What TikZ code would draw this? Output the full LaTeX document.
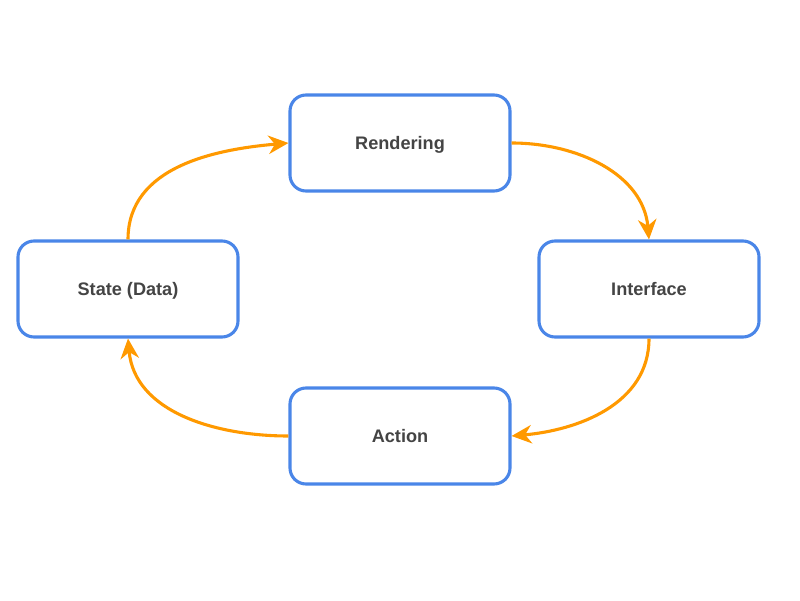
\documentclass[tikz,border=0pt]{standalone}
\usepackage{fontspec}
\setmainfont{Liberation Sans}
\usepackage{tikz}
\usetikzlibrary{arrows.meta}

\definecolor{boxblue}{HTML}{4A86E8}
\definecolor{flowor}{HTML}{FF9900}
\definecolor{txtgray}{HTML}{444444}

\begin{document}
\begin{tikzpicture}[
	stage/.style={draw=boxblue, line width=2.2pt, rounded corners=0.4cm, fill=white,
		minimum width=5.5cm, minimum height=2.4cm, text depth=0pt,
		font=\fontsize{12.9}{15}\selectfont\bfseries, text=txtgray},
	flow/.style={draw=flowor, line width=2.2pt, -{Stealth[length=5mm, width=4.6mm, inset=1.6mm]}}]
	\useasboundingbox (0,0) rectangle (20,15);
	\node[stage] (render) at (10,11.425) {Rendering};
	\node[stage] (iface) at (16.225,7.775) {Interface};
	\node[stage] (state) at (3.2,7.775) {State (Data)};
	\node[stage] (act) at (10,4.1) {Action};
	\draw[flow] (render.east) to[out=0, in=95] (iface.north);
	\draw[flow] (iface.south) to[out=-90, in=5] (act.east);
	\draw[flow] (act.west) to[out=180, in=-85] (state.south);
	\draw[flow] (state.north) to[out=90, in=185] (render.west);
\end{tikzpicture}
\end{document}
